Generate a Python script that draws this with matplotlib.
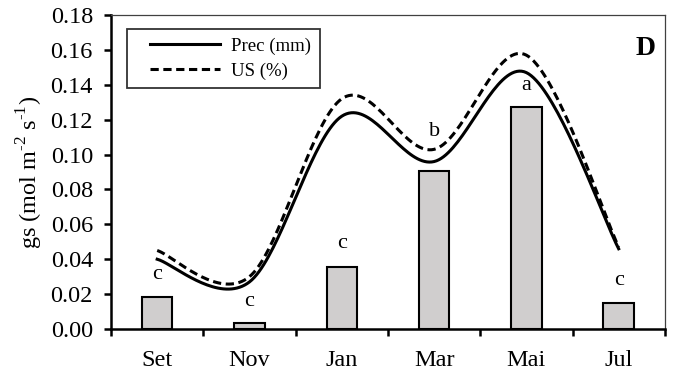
import matplotlib
matplotlib.use("Agg")
import matplotlib.pyplot as plt
import numpy as np
from matplotlib.legend_handler import HandlerLine2D
from matplotlib.lines import Line2D

months = ["Set", "Nov", "Jan", "Mar", "Mai", "Jul"]
gs_bars = [0.0185, 0.0036, 0.0357, 0.0908, 0.1275, 0.0151]
letters = ["c", "c", "c", "b", "a", "c"]
prec_mm = [0.040, 0.027, 0.122, 0.096, 0.147, 0.046]
us_pct = [0.045, 0.030, 0.132, 0.103, 0.157, 0.047]

# letter offset above each bar (points) - "b" sits higher to clear the curves
letter_offsets = [16, 15, 17, 28, 15, 16]

plt.rcParams["font.family"] = ["Liberation Serif", "DejaVu Serif"]
plt.rcParams["mathtext.fontset"] = "custom"
plt.rcParams["mathtext.rm"] = "Liberation Serif"


def smooth(xs, ys, n=40):
    """Excel-style smoothed line (Catmull-Rom via cubic Bezier)."""
    pts = np.column_stack([xs, ys]).astype(float)
    ext = np.vstack([pts[0], pts, pts[-1]])
    out = []
    t = np.linspace(0, 1, n)[:, None]
    for i in range(1, len(ext) - 2):
        p0, p1, p2, p3 = ext[i - 1], ext[i], ext[i + 1], ext[i + 2]
        b1 = p1 + (p2 - p0) / 6
        b2 = p2 - (p3 - p1) / 6
        seg = ((1 - t) ** 3) * p1 + 3 * ((1 - t) ** 2) * t * b1 \
            + 3 * (1 - t) * t ** 2 * b2 + t ** 3 * p2
        out.append(seg)
    c = np.vstack(out)
    return c[:, 0], c[:, 1]


fig = plt.figure(figsize=(6.77, 3.76), dpi=100)
ax = fig.add_axes([0.164, 0.125, 0.818, 0.835])

x = np.arange(len(months))
ax.bar(x, gs_bars, width=0.33, color="#d0cece", edgecolor="black", linewidth=1.5, zorder=2)
for xi, v, lab, off in zip(x, gs_bars, letters, letter_offsets):
    ax.annotate(lab, (xi, v), xytext=(0, off), textcoords="offset points",
                ha="center", va="center", fontsize=16)

sx, sy = smooth(x, prec_mm)
ax.plot(sx, sy, color="black", lw=2.2, label="Prec (mm)", zorder=3)
sx, sy = smooth(x, us_pct)
ax.plot(sx, sy, color="black", lw=2.2, ls=(0, (2.7, 1.5)), label="US (%)", zorder=3)

ax.set_xlim(-0.5, 5.5)
ax.set_ylim(0, 0.18)
yt = np.arange(0, 0.181, 0.02)
ax.set_yticks(yt)
ax.set_yticklabels([f"{v:.2f}" for v in yt], fontsize=17.5)
ax.set_xticks(np.arange(-0.5, 5.6, 1.0))
ax.set_xticklabels([])
ax.set_xticks(x, minor=True)
ax.set_xticklabels(months, minor=True, fontsize=17.5)
ax.tick_params(axis="x", which="major", direction="out", length=5, width=1.8)
ax.tick_params(axis="x", which="minor", length=0, pad=15)
ax.tick_params(axis="y", direction="out", length=5, width=1.8, pad=8)
ax.set_ylabel("gs (mol m$^{\\text{-2}}$ s$^{\\text{-1}}$)", fontsize=17.5, labelpad=4)

for side in ("left", "bottom"):
    ax.spines[side].set_linewidth(1.8)
for side in ("top", "right"):
    ax.spines[side].set_linewidth(0.9)
    ax.spines[side].set_color("#404040")

ax.text(0.983, 0.895, "D", transform=ax.transAxes, ha="right", va="center",
        fontsize=20, fontweight="bold")

leg = ax.legend(loc="upper left", bbox_to_anchor=(0.029, 0.955), borderaxespad=0,
                fontsize=13.5, frameon=True, fancybox=False, edgecolor="black",
                handlelength=4.5, borderpad=0.45, labelspacing=0.4, handletextpad=0.6,
                handler_map={Line2D: HandlerLine2D(xpad=0.75)})
leg.get_frame().set_linewidth(1.3)

fig.savefig("out.png", dpi=100)
